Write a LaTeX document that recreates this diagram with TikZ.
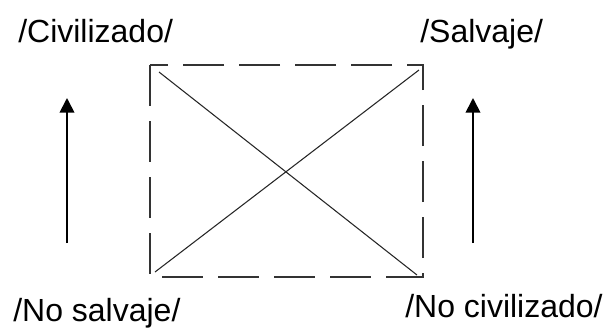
\documentclass[tikz,border=0pt]{standalone}
\usepackage{fontspec}
\setmainfont{Liberation Sans}
\usepackage{tikz}
\usetikzlibrary{arrows.meta,positioning,calc}

\begin{document}
\begin{tikzpicture}[
  x=0.75pt, y=-0.75pt, >={Triangle[width=11pt,length=11pt]},
  every node/.style={font=\fontsize{24pt}{28pt}\selectfont, inner sep=0pt},
  term/.style={anchor=base west},
  frame/.style={draw=black!80, line width=1.2pt, dash pattern=on 31pt off 11pt},
  cross/.style={draw=black!85, line width=0.8pt},
  axis/.style={->, line width=1.3pt}
]
  \useasboundingbox (0,0) rectangle (608,329);
  % the four terms
  \node[term] (civ) at (18,42) {/Civilizado/};
  \node[term] (salv) at (420,42) {/Salvaje/};
  \node[term] (nosalv) at (13,321) {/No salvaje/};
  \node[term] (nociv) at (405,317) {/No civilizado/};
  % square
  \coordinate (tl) at (150,65);
  \coordinate (br) at (423,277);
  \draw[frame] (tl) rectangle (br);
  \coordinate (d1a) at (159,72);
  \coordinate (d1b) at (417,275);
  \coordinate (d2a) at (155,272);
  \coordinate (d2b) at (419,70);
  \draw[cross] (d1a) -- (d1b);
  \draw[cross] (d2a) -- (d2b);
  % arrows
  \coordinate (la) at (67,243);
  \coordinate (lb) at (67,98);
  \coordinate (ra) at (473,243);
  \coordinate (rb) at (473,98);
  \draw[axis] (la) -- (lb);
  \draw[axis] (ra) -- (rb);
\end{tikzpicture}
\end{document}
